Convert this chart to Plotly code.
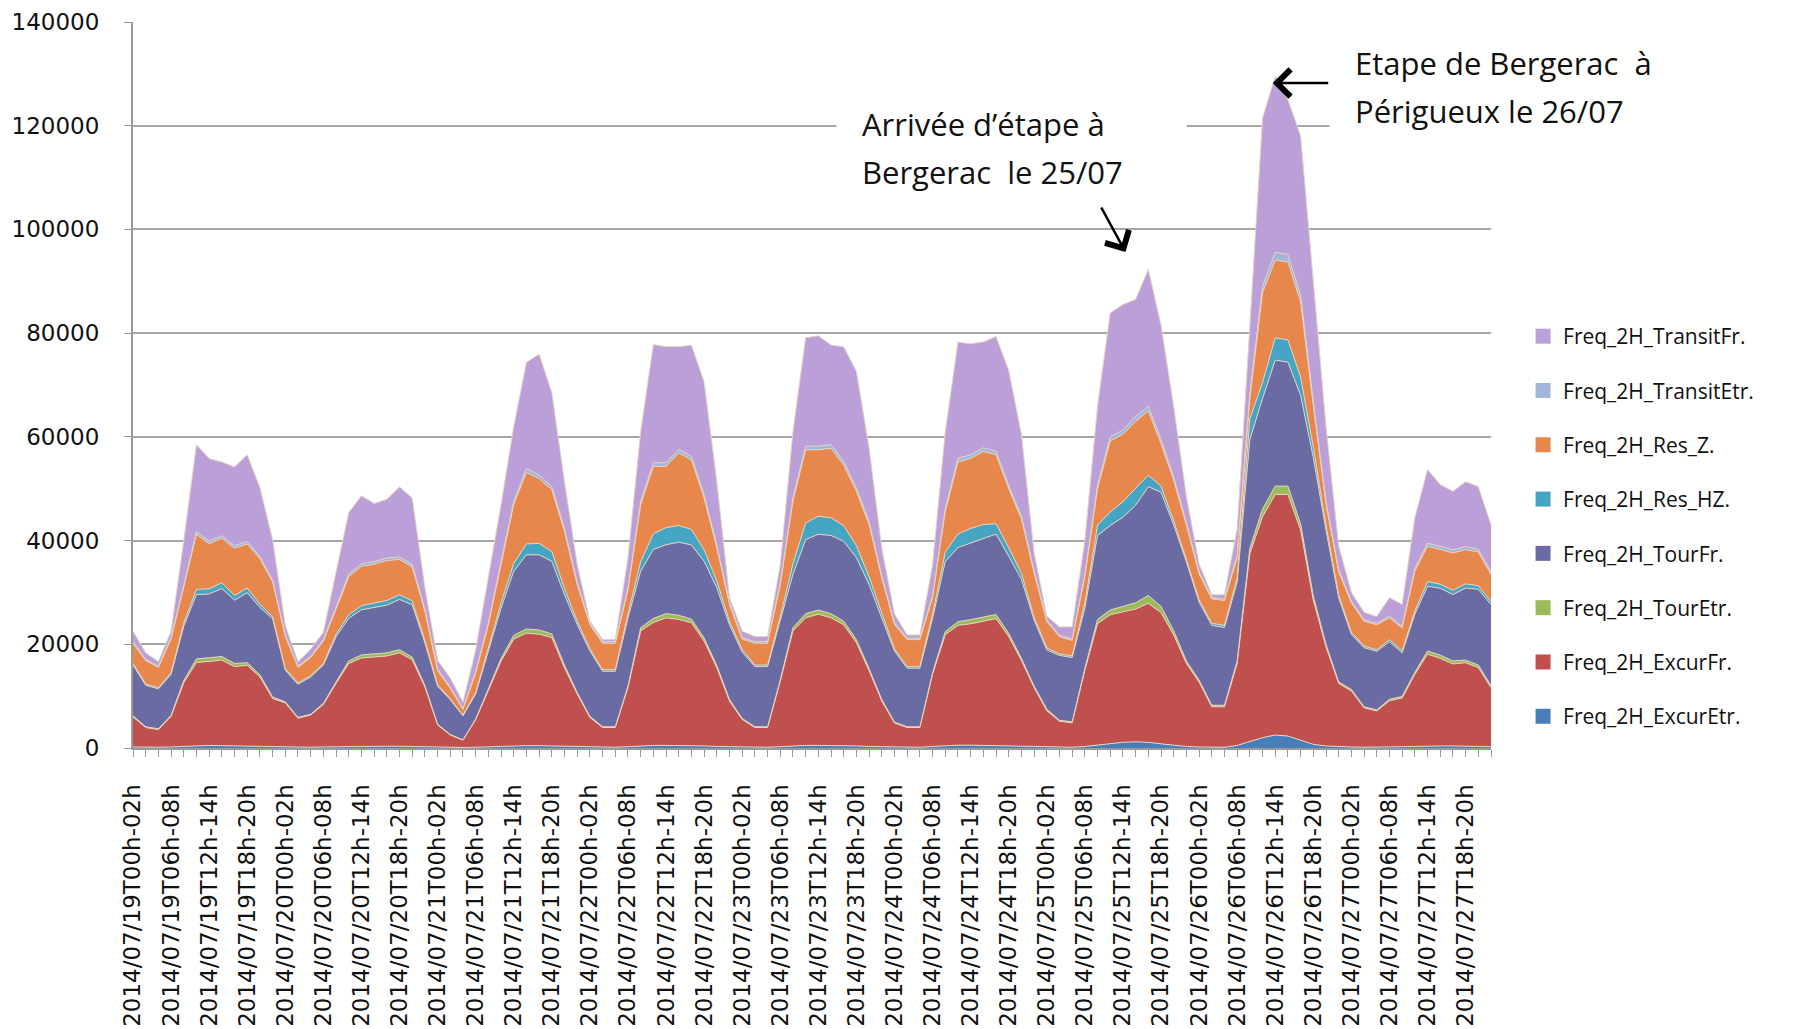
import plotly.graph_objects as go

# 2-hour slots, 19/07 -> 27/07/2014
days = ["19", "20", "21", "22", "23", "24", "25", "26", "27"]
slots = ["00h-02h", "02h-04h", "04h-06h", "06h-08h", "08h-10h", "10h-12h",
         "12h-14h", "14h-16h", "16h-18h", "18h-20h", "20h-22h", "22h-24h"]
categories = [f"2014/07/{d}T{s}" for d in days for s in slots]
tick_text = [c if k % 3 == 0 else "" for k, c in enumerate(categories)]

# one row of 12 values per day
excur_etr = [
    200, 150, 150, 200, 300, 500, 500, 450, 400, 350, 300, 250,
    200, 150, 150, 200, 250, 300, 350, 350, 350, 350, 300, 250,
    150, 100, 100, 150, 250, 350, 400, 450, 450, 400, 350, 300,
    200, 150, 150, 250, 400, 500, 500, 500, 450, 400, 300, 250,
    200, 150, 150, 250, 400, 500, 500, 500, 450, 400, 300, 250,
    200, 150, 150, 300, 450, 550, 550, 500, 450, 400, 300, 250,
    200, 150, 150, 300, 600, 900, 1100, 1200, 1100, 800, 500, 300,
    200, 150, 150, 500, 1200, 2000, 2500, 2300, 1500, 700, 400, 250,
    200, 150, 150, 200, 250, 300, 400, 400, 400, 350, 300, 250,
]
excur_fr = [
    5800, 3800, 3400, 5900, 12300, 16000, 16200, 16500, 15300, 15600, 13400, 9300,
    8500, 5600, 6200, 8200, 12200, 16000, 17000, 17200, 17400, 18000, 16700, 11500,
    4300, 2400, 1400, 5300, 11000, 16400, 20600, 21700, 21500, 20900, 15100, 10100,
    5700, 3800, 3800, 11400, 22200, 23700, 24600, 24300, 23700, 20200, 15200, 8800,
    5300, 3800, 3800, 12600, 22200, 24600, 25300, 24600, 23300, 19900, 14600, 8800,
    4600, 3800, 3800, 13900, 21400, 23100, 23400, 23900, 24500, 21100, 16600, 11400,
    7000, 5000, 4700, 14700, 23400, 24800, 25200, 25600, 26800, 25300, 21300, 16000,
    12500, 7800, 7800, 15800, 36300, 42600, 46400, 46600, 40500, 27800, 19100, 12200,
    10800, 7600, 7000, 8900, 9400, 13900, 17700, 16900, 15800, 16100, 15200, 11400,
]
tour_etr = [
    200, 150, 150, 200, 400, 700, 700, 700, 600, 500, 400, 300,
    200, 150, 150, 200, 300, 500, 600, 600, 600, 600, 500, 300,
    150, 100, 100, 150, 300, 500, 700, 800, 800, 700, 500, 300,
    200, 150, 150, 300, 600, 800, 800, 800, 700, 600, 400, 300,
    200, 150, 150, 300, 600, 800, 800, 800, 700, 600, 400, 300,
    200, 150, 150, 300, 600, 700, 800, 800, 800, 600, 400, 300,
    300, 200, 200, 400, 800, 900, 1000, 1200, 1500, 1200, 800, 500,
    400, 300, 300, 500, 1000, 1500, 1600, 1600, 1200, 800, 500, 300,
    300, 200, 200, 300, 300, 400, 600, 600, 600, 500, 500, 400,
]
tour_fr = [
    9800, 8000, 7700, 7900, 10500, 12400, 12300, 13100, 12200, 13500, 13000, 15100,
    6100, 6400, 7200, 7400, 8700, 8200, 8700, 9000, 9200, 9700, 10100, 8200,
    7300, 6700, 4600, 4800, 7100, 9700, 12400, 14300, 14500, 14000, 13600, 13100,
    12600, 10700, 10700, 13100, 10900, 13300, 13300, 14100, 14300, 14800, 15000, 14400,
    12800, 11600, 11600, 11300, 10300, 14300, 14600, 15100, 15400, 15800, 16200, 15700,
    13700, 11300, 11300, 10500, 13500, 14300, 14800, 15100, 15500, 14900, 15200, 12700,
    11400, 12500, 12400, 11600, 16200, 16300, 17200, 18800, 21000, 22000, 20400, 19100,
    15000, 15400, 15000, 15200, 21000, 21300, 24300, 23900, 24800, 26700, 22000, 16200,
    10600, 11400, 11300, 11100, 8400, 11200, 12500, 12900, 12800, 13900, 14600, 15600,
]
res_hz = [
    300, 250, 250, 300, 600, 1000, 1000, 1100, 900, 900, 600, 400,
    300, 250, 250, 300, 500, 700, 800, 800, 900, 900, 800, 500,
    300, 200, 150, 300, 500, 1000, 1500, 2100, 2200, 1900, 1200, 700,
    500, 300, 300, 800, 1800, 3000, 3300, 3200, 3000, 2200, 1300, 700,
    500, 300, 300, 900, 2000, 3200, 3500, 3400, 3000, 2300, 1500, 800,
    400, 300, 300, 800, 1800, 2600, 2800, 2800, 2000, 1600, 1200, 600,
    400, 300, 300, 1000, 2000, 2600, 3000, 3300, 2200, 1200, 800, 500,
    500, 400, 400, 800, 4000, 3100, 4300, 4300, 3500, 2000, 1000, 600,
    400, 300, 300, 400, 400, 600, 900, 800, 800, 800, 700, 600,
]
res_z = [
    3900, 4500, 3900, 6500, 6900, 10600, 8700, 8600, 9100, 8500, 8800, 6700,
    6200, 3000, 3500, 4300, 4800, 7300, 7600, 7500, 7700, 6800, 6500, 5600,
    2700, 2000, 1100, 3700, 4600, 7400, 11400, 13800, 12500, 11900, 11000, 7000,
    4600, 5100, 5100, 4600, 11000, 13000, 11800, 14000, 13400, 10000, 6400, 3200,
    2000, 4200, 4200, 6100, 12100, 14100, 12800, 13400, 11700, 10500, 10100, 6900,
    4700, 5200, 5200, 3200, 7800, 13900, 13500, 14100, 13300, 11400, 10500, 8500,
    5100, 3300, 3000, 5000, 7000, 13700, 13000, 12900, 12400, 8200, 7800, 6600,
    5000, 4700, 4800, 3900, 3900, 17300, 15000, 15000, 14500, 8000, 4000, 4400,
    5700, 4800, 4800, 4200, 4400, 7700, 6800, 6700, 7200, 6600, 6500, 5200,
]
transit_etr = [
    300, 200, 200, 300, 400, 500, 500, 500, 500, 500, 400, 300,
    300, 200, 200, 300, 400, 500, 500, 500, 500, 500, 500, 400,
    300, 200, 150, 300, 400, 500, 600, 700, 700, 600, 500, 400,
    300, 300, 300, 400, 600, 700, 700, 700, 700, 600, 500, 400,
    300, 300, 300, 400, 600, 700, 700, 700, 700, 600, 500, 400,
    300, 300, 300, 400, 600, 700, 700, 700, 700, 600, 500, 400,
    300, 300, 300, 500, 700, 800, 800, 900, 900, 800, 600, 400,
    400, 300, 300, 500, 1000, 1200, 1500, 1500, 1200, 800, 500, 400,
    300, 300, 300, 400, 300, 500, 600, 600, 600, 600, 500, 500,
]
transit_fr = [
    2000, 1300, 900, 1200, 8600, 16800, 15900, 14200, 15200, 16700, 13300, 7800,
    1800, 900, 1400, 1400, 6800, 11900, 13100, 11200, 11300, 13500, 12800, 4200,
    1700, 1800, 1200, 4200, 8800, 11100, 14400, 20500, 23300, 18100, 9100, 3500,
    400, 400, 400, 5800, 13500, 22800, 22400, 19800, 21400, 21800, 12300, 900,
    1200, 1000, 1000, 3500, 12800, 20900, 21300, 19200, 22100, 22500, 14200, 5400,
    1700, 600, 600, 6000, 14800, 22400, 21400, 20400, 22100, 22200, 15800, 3500,
    700, 1600, 2300, 6500, 15300, 23900, 24200, 22600, 26400, 22000, 13600, 5100,
    1500, 500, 800, 5000, 13100, 32500, 33900, 29800, 30800, 23200, 14500, 4600,
    1700, 1400, 1300, 3500, 4200, 9800, 14200, 11900, 11300, 12500, 12100, 9100,
]

# stacking order, bottom to top
series = [
    ("Freq_2H_ExcurEtr.", excur_etr, "#4A7EBB"),
    ("Freq_2H_ExcurFr.", excur_fr, "#C0504D"),
    ("Freq_2H_TourEtr.", tour_etr, "#9BBB59"),
    ("Freq_2H_TourFr.", tour_fr, "#6B6BA3"),
    ("Freq_2H_Res_HZ.", res_hz, "#46A5C2"),
    ("Freq_2H_Res_Z.", res_z, "#E8874B"),
    ("Freq_2H_TransitEtr.", transit_etr, "#A0B6DA"),
    ("Freq_2H_TransitFr.", transit_fr, "#BA9FD8"),
]

fig = go.Figure()
for k, (name, vals, col) in enumerate(series):
    fig.add_trace(go.Scatter(
        x=categories, y=vals, name=name, mode="lines",
        stackgroup="freq", showlegend=False,
        fillcolor=col, line=dict(color="#e6d3c0", width=1),
        hoverinfo="skip",
    ))
    # square swatch for the legend, top of the stack listed first
    fig.add_trace(go.Scatter(
        x=[None], y=[None], name=name, mode="markers", legendgroup=name,
        legendrank=len(series) - k,
        marker=dict(symbol="square", size=15, color=col),
    ))

# white boxes hiding gridlines behind the text blocks (no data underneath)
fig.add_shape(type="rect", xref="paper", yref="paper", x0=0.518, x1=0.776,
              y0=0.762, y1=0.899, fillcolor="white", line_width=0, layer="above")
fig.add_shape(type="rect", xref="paper", yref="paper", x0=0.881, x1=1.03,
              y0=0.844, y1=1.02, fillcolor="white", line_width=0, layer="above")

note_font = dict(family="Open Sans", size=31, color="#111111")
notes = [
    ("Arrivée d’étape à", 0.5353, 0.8595),
    ("Bergerac\u00a0 le 25/07", 0.5353, 0.7934),
    ("Etape de Bergerac\u00a0 à", 0.8984, 0.9435),
    ("Périgueux le 26/07", 0.8984, 0.8774),
]
for txt, nx, ny in notes:
    fig.add_annotation(xref="paper", yref="paper", x=nx, y=ny, text=txt,
                       xanchor="left", yanchor="middle", showarrow=False,
                       font=note_font)
fig.add_annotation(xref="x", yref="y", x=78.2, y=95650, text="", showarrow=True,
                   ax=-25, ay=-46, arrowhead=4, arrowsize=2.1, arrowwidth=2.5,
                   arrowcolor="black")
fig.add_annotation(xref="x", yref="y", x=89.8, y=128240, text="", showarrow=True,
                   ax=57, ay=0, arrowhead=4, arrowsize=2.1, arrowwidth=2.5,
                   arrowcolor="black")

fig.update_layout(
    width=1798, height=1029,
    margin=dict(l=133, r=307, t=22, b=281),
    plot_bgcolor="white", paper_bgcolor="white",
    showlegend=True,
    legend=dict(x=1.0236, y=0.595, xanchor="left", yanchor="top",
                traceorder="grouped", tracegroupgap=24,
                font=dict(family="Open Sans", size=21, color="#111111")),
)
fig.update_xaxes(
    type="category", range=[0, 107], automargin=False,
    tickmode="array", tickvals=categories, ticktext=tick_text,
    tickangle=-90, ticks="outside", ticklen=7, tickcolor="#999999",
    ticklabelstandoff=18,
    tickfont=dict(family="DejaVu Sans", size=23, color="#111111"),
    showline=True, linecolor="#999999", linewidth=2, showgrid=False,
)
fig.update_yaxes(
    range=[0, 140000], dtick=20000, tickformat="d", automargin=False,
    ticks="outside", ticklen=7, tickcolor="#999999",
    ticklabelstandoff=20,
    tickfont=dict(family="DejaVu Sans", size=23, color="#111111"),
    showline=True, linecolor="#999999", linewidth=2,
    showgrid=True, gridcolor="#a6a6a6", gridwidth=2, zeroline=False,
)

# drop the page's default body margin so the figure sits at the window origin
fig.write_html("out.html", config={"displayModeBar": False},
               post_script="document.body.style.margin='0px';")
